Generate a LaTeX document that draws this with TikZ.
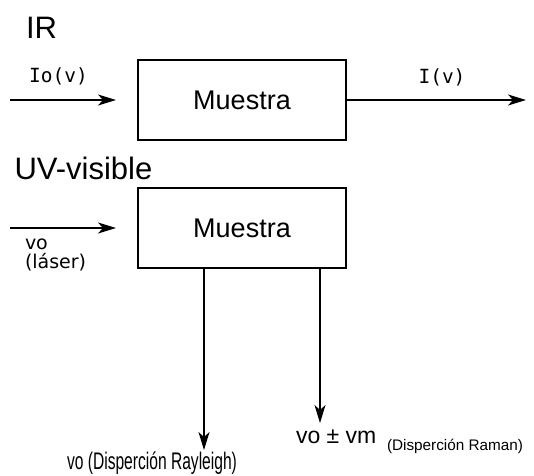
\documentclass[tikz,border=0pt]{standalone}
\usepackage{fontspec}
\setmainfont{Liberation Sans}
\newfontfamily\dvs{DejaVu Sans}
\newfontfamily\dvm{DejaVu Sans Mono}
\newfontfamily\narrowf[FakeStretch=0.65]{Liberation Sans}
\usetikzlibrary{arrows.meta}
\begin{document}
\begin{tikzpicture}[x=1pt,y=-1pt,
  every node/.style={inner sep=0pt, outer sep=0pt},
  boxst/.style={draw, line width=2.5pt, minimum width=208pt, minimum height=80pt, font=\fontsize{27}{30}\selectfont},
  titlest/.style={font=\fontsize{31}{34}\selectfont, anchor=base west},
  arr/.style={line width=1.4pt, -{Stealth[length=18pt,width=11pt,inset=5pt]}},
  monost/.style={font=\dvm\fontsize{19.5}{22}\selectfont},
  smallst/.style={font=\dvs\fontsize{19}{22}\selectfont, anchor=west},
]
\useasboundingbox (0,0) rectangle (534,475);

\node[titlest] (ir) at (26,38) {IR};
\node[titlest] (uv) at (14.5,179.5) {UV-visible};

\node[boxst] (b1) at (242,100) {Muestra};
\node[boxst] (b2) at (242,228) {Muestra};

\coordinate (in1) at (10,100);
\coordinate (out1) at (526,100);
\draw[arr, shorten >=22pt] (in1) -- (b1.west);
\draw[arr] (b1.east) -- (out1);
\node[monost] (l1) at (58.5,76) {Io(v)};
\node[monost] (l2) at (442,77) {I(v)};

\coordinate (in2) at (10,228);
\draw[arr, shorten >=22pt] (in2) -- (b2.west);
\node[smallst, anchor=base west] (vo) at (25,249) {vo};
\node[smallst, anchor=base west] (las) at (25,268.5) {(láser)};

\coordinate (r1) at (204,450);
\coordinate (r2) at (320,423);
\draw[arr] (b2.south -| r1) -- (r1);
\draw[arr] (b2.south -| r2) -- (r2);

\node[font=\narrowf\fontsize{24}{27}\selectfont, anchor=base] (ray) at (152,469.5) {vo (Disperción Rayleigh)};
\node[font=\fontsize{23}{26}\selectfont, anchor=west] (ram) at (296,437) {vo ± vm};
\node[font=\fontsize{15.3}{18}\selectfont, anchor=west] (ramsub) at (387,446) {(Disperción Raman)};
\end{tikzpicture}
\end{document}
